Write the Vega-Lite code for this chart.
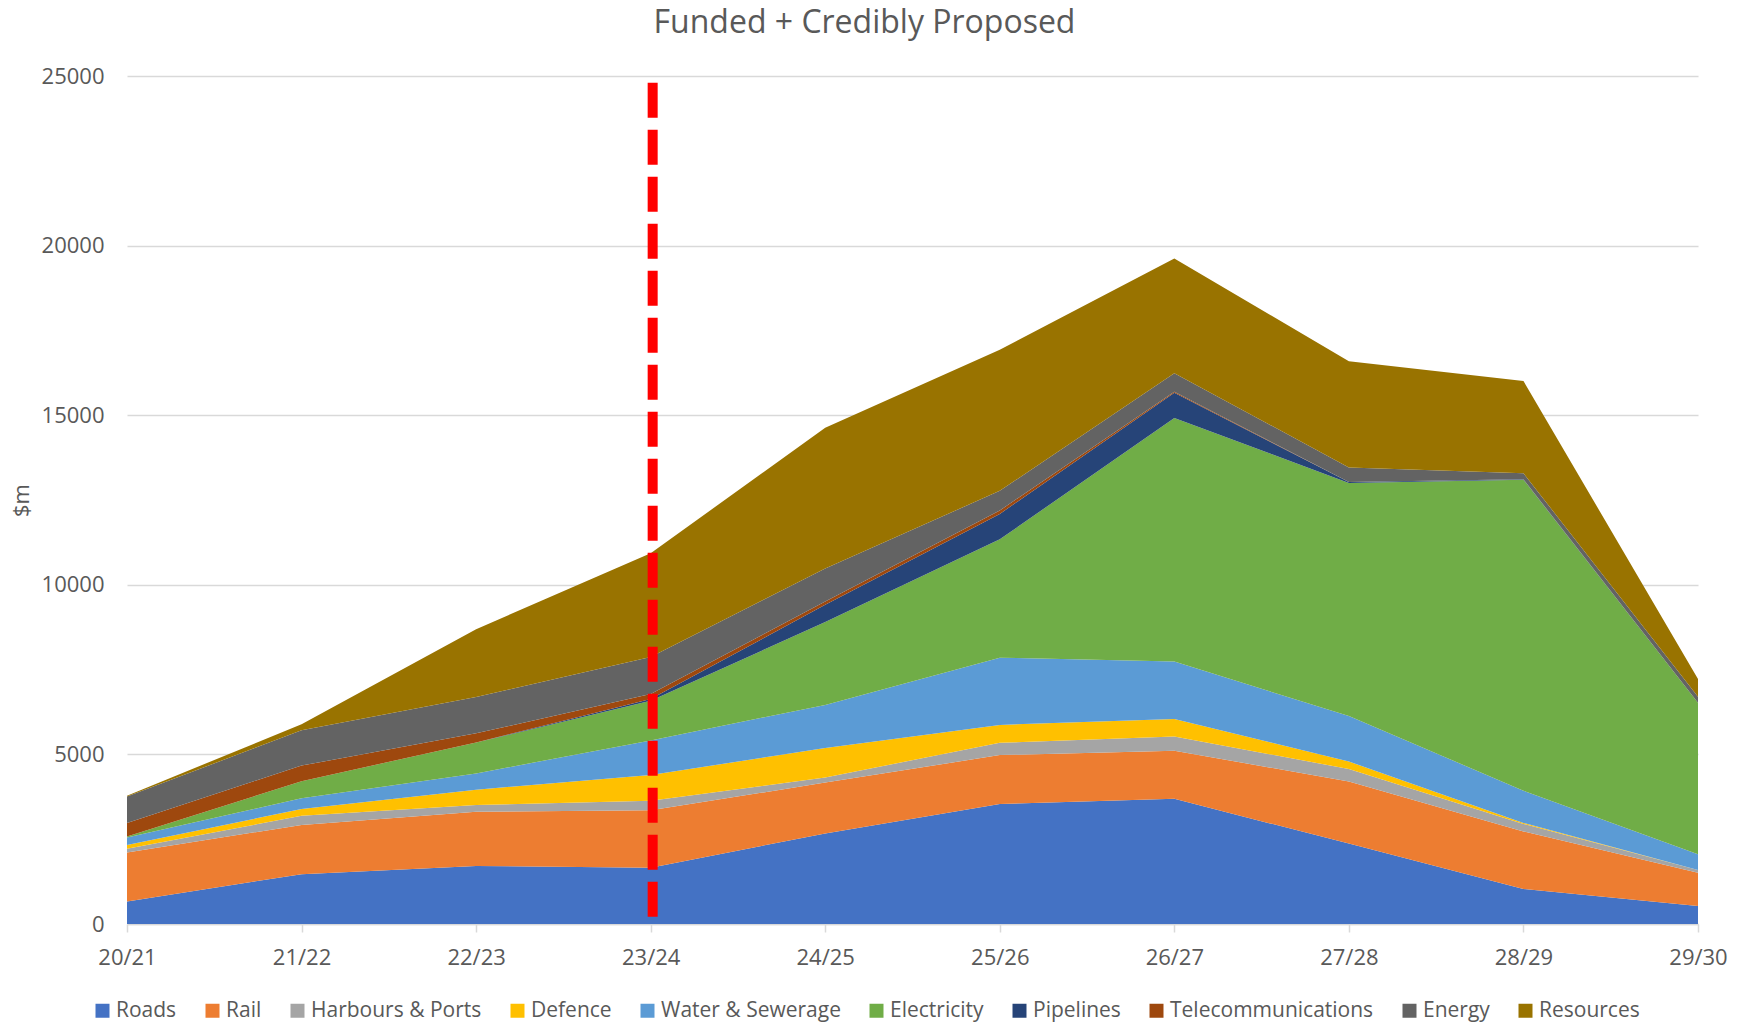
{
  "$schema": "https://vega.github.io/schema/vega-lite/v6.json",
  "width": 1571,
  "height": 848,
  "autosize": {"type": "none"},
  "padding": {"left": 127, "top": 76, "right": 48, "bottom": 99},
  "background": "white",
  "title": {"text": "Funded + Credibly Proposed", "font": "Open Sans", "fontSize": 32, "fontWeight": "normal", "color": "#595959", "offset": 25, "anchor": "middle", "dx": -48},
  "config": {"view": {"stroke": null}, "font": "Open Sans"},
  "layer": [
    {
      "data": {"values": [
        {"year":"20/21","series":"Roads","i":1,"value":660},
        {"year":"20/21","series":"Rail","i":2,"value":1450},
        {"year":"20/21","series":"Harbours & Ports","i":3,"value":110},
        {"year":"20/21","series":"Defence","i":4,"value":110},
        {"year":"20/21","series":"Water & Sewerage","i":5,"value":220},
        {"year":"20/21","series":"Electricity","i":6,"value":30},
        {"year":"20/21","series":"Pipelines","i":7,"value":0},
        {"year":"20/21","series":"Telecommunications","i":8,"value":400},
        {"year":"20/21","series":"Energy","i":9,"value":780},
        {"year":"20/21","series":"Resources","i":10,"value":20},
        {"year":"21/22","series":"Roads","i":1,"value":1470},
        {"year":"21/22","series":"Rail","i":2,"value":1450},
        {"year":"21/22","series":"Harbours & Ports","i":3,"value":270},
        {"year":"21/22","series":"Defence","i":4,"value":200},
        {"year":"21/22","series":"Water & Sewerage","i":5,"value":320},
        {"year":"21/22","series":"Electricity","i":6,"value":500},
        {"year":"21/22","series":"Pipelines","i":7,"value":0},
        {"year":"21/22","series":"Telecommunications","i":8,"value":460},
        {"year":"21/22","series":"Energy","i":9,"value":1040},
        {"year":"21/22","series":"Resources","i":10,"value":180},
        {"year":"22/23","series":"Roads","i":1,"value":1710},
        {"year":"22/23","series":"Rail","i":2,"value":1600},
        {"year":"22/23","series":"Harbours & Ports","i":3,"value":200},
        {"year":"22/23","series":"Defence","i":4,"value":450},
        {"year":"22/23","series":"Water & Sewerage","i":5,"value":480},
        {"year":"22/23","series":"Electricity","i":6,"value":910},
        {"year":"22/23","series":"Pipelines","i":7,"value":0},
        {"year":"22/23","series":"Telecommunications","i":8,"value":270},
        {"year":"22/23","series":"Energy","i":9,"value":1070},
        {"year":"22/23","series":"Resources","i":10,"value":2000},
        {"year":"23/24","series":"Roads","i":1,"value":1660},
        {"year":"23/24","series":"Rail","i":2,"value":1690},
        {"year":"23/24","series":"Harbours & Ports","i":3,"value":280},
        {"year":"23/24","series":"Defence","i":4,"value":760},
        {"year":"23/24","series":"Water & Sewerage","i":5,"value":1020},
        {"year":"23/24","series":"Electricity","i":6,"value":1170},
        {"year":"23/24","series":"Pipelines","i":7,"value":50},
        {"year":"23/24","series":"Telecommunications","i":8,"value":150},
        {"year":"23/24","series":"Energy","i":9,"value":1090},
        {"year":"23/24","series":"Resources","i":10,"value":3060},
        {"year":"24/25","series":"Roads","i":1,"value":2670},
        {"year":"24/25","series":"Rail","i":2,"value":1500},
        {"year":"24/25","series":"Harbours & Ports","i":3,"value":150},
        {"year":"24/25","series":"Defence","i":4,"value":870},
        {"year":"24/25","series":"Water & Sewerage","i":5,"value":1270},
        {"year":"24/25","series":"Electricity","i":6,"value":2440},
        {"year":"24/25","series":"Pipelines","i":7,"value":510},
        {"year":"24/25","series":"Telecommunications","i":8,"value":100},
        {"year":"24/25","series":"Energy","i":9,"value":970},
        {"year":"24/25","series":"Resources","i":10,"value":4150},
        {"year":"25/26","series":"Roads","i":1,"value":3540},
        {"year":"25/26","series":"Rail","i":2,"value":1440},
        {"year":"25/26","series":"Harbours & Ports","i":3,"value":360},
        {"year":"25/26","series":"Defence","i":4,"value":530},
        {"year":"25/26","series":"Water & Sewerage","i":5,"value":1980},
        {"year":"25/26","series":"Electricity","i":6,"value":3490},
        {"year":"25/26","series":"Pipelines","i":7,"value":750},
        {"year":"25/26","series":"Telecommunications","i":8,"value":100},
        {"year":"25/26","series":"Energy","i":9,"value":580},
        {"year":"25/26","series":"Resources","i":10,"value":4160},
        {"year":"26/27","series":"Roads","i":1,"value":3690},
        {"year":"26/27","series":"Rail","i":2,"value":1420},
        {"year":"26/27","series":"Harbours & Ports","i":3,"value":420},
        {"year":"26/27","series":"Defence","i":4,"value":510},
        {"year":"26/27","series":"Water & Sewerage","i":5,"value":1700},
        {"year":"26/27","series":"Electricity","i":6,"value":7180},
        {"year":"26/27","series":"Pipelines","i":7,"value":740},
        {"year":"26/27","series":"Telecommunications","i":8,"value":30},
        {"year":"26/27","series":"Energy","i":9,"value":550},
        {"year":"26/27","series":"Resources","i":10,"value":3380},
        {"year":"27/28","series":"Roads","i":1,"value":2370},
        {"year":"27/28","series":"Rail","i":2,"value":1830},
        {"year":"27/28","series":"Harbours & Ports","i":3,"value":370},
        {"year":"27/28","series":"Defence","i":4,"value":220},
        {"year":"27/28","series":"Water & Sewerage","i":5,"value":1340},
        {"year":"27/28","series":"Electricity","i":6,"value":6870},
        {"year":"27/28","series":"Pipelines","i":7,"value":30},
        {"year":"27/28","series":"Telecommunications","i":8,"value":0},
        {"year":"27/28","series":"Energy","i":9,"value":430},
        {"year":"27/28","series":"Resources","i":10,"value":3130},
        {"year":"28/29","series":"Roads","i":1,"value":1030},
        {"year":"28/29","series":"Rail","i":2,"value":1700},
        {"year":"28/29","series":"Harbours & Ports","i":3,"value":220},
        {"year":"28/29","series":"Defence","i":4,"value":30},
        {"year":"28/29","series":"Water & Sewerage","i":5,"value":950},
        {"year":"28/29","series":"Electricity","i":6,"value":9170},
        {"year":"28/29","series":"Pipelines","i":7,"value":10},
        {"year":"28/29","series":"Telecommunications","i":8,"value":0},
        {"year":"28/29","series":"Energy","i":9,"value":180},
        {"year":"28/29","series":"Resources","i":10,"value":2720},
        {"year":"29/30","series":"Roads","i":1,"value":530},
        {"year":"29/30","series":"Rail","i":2,"value":980},
        {"year":"29/30","series":"Harbours & Ports","i":3,"value":80},
        {"year":"29/30","series":"Defence","i":4,"value":0},
        {"year":"29/30","series":"Water & Sewerage","i":5,"value":470},
        {"year":"29/30","series":"Electricity","i":6,"value":4460},
        {"year":"29/30","series":"Pipelines","i":7,"value":0},
        {"year":"29/30","series":"Telecommunications","i":8,"value":0},
        {"year":"29/30","series":"Energy","i":9,"value":180},
        {"year":"29/30","series":"Resources","i":10,"value":520}
      ]},
      "mark": {"type": "area", "interpolate": "linear"},
      "encoding": {
        "x": {
          "field": "year", "type": "ordinal",
          "scale": {"type": "point", "padding": 0},
          "axis": {"title": null, "labelAngle": 0, "labelFontSize": 22, "labelColor": "#595959", "labelFont": "Open Sans", "domainColor": "#D9D9D9", "domainWidth": 1.5, "tickColor": "#D9D9D9", "tickWidth": 1.5, "tickSize": 8, "labelPadding": 15, "grid": false}
        },
        "y": {
          "field": "value", "type": "quantitative", "stack": "zero",
          "scale": {"domain": [0, 25000], "nice": false},
          "axis": {"title": "$m", "titleFont": "Open Sans", "titleFontSize": 22, "titleFontWeight": "normal", "titleColor": "#595959", "titleX": -106, "titleY": 424, "titleAngle": -90, "titleAlign": "center", "titleBaseline": "middle", "values": [0, 5000, 10000, 15000, 20000, 25000], "format": "d", "labelFontSize": 22, "labelColor": "#595959", "labelFont": "Open Sans", "labelPadding": 23, "ticks": false, "domain": false, "grid": true, "gridColor": "#D9D9D9", "gridWidth": 1.5}
        },
        "color": {
          "field": "series", "type": "nominal",
          "scale": {
            "domain": ["Roads", "Rail", "Harbours & Ports", "Defence", "Water & Sewerage", "Electricity", "Pipelines", "Telecommunications", "Energy", "Resources"],
            "range": ["#4472C4", "#ED7D31", "#A5A5A5", "#FFC000", "#5B9BD5", "#70AD47", "#264478", "#9E480E", "#636363", "#997300"]
          },
          "legend": {"title": null, "orient": "none", "legendX": -35, "legendY": 924, "direction": "horizontal", "columns": 10, "symbolType": "square", "symbolSize": 196, "symbolStrokeWidth": 0, "symbolOpacity": 1, "labelFontSize": 21, "labelFont": "Open Sans", "labelColor": "#595959", "labelLimit": 0, "columnPadding": 25, "labelOffset": 3}
        },
        "order": {"field": "i", "type": "quantitative"}
      }
    },
    {
      "data": {"values": [{"year": "23/24", "top": 24800, "base": 0}]},
      "mark": {"type": "rule", "color": "#FF0000", "strokeWidth": 10, "strokeDash": [35, 12], "strokeCap": "butt", "xOffset": 2},
      "encoding": {
        "x": {"field": "year", "type": "ordinal"},
        "y": {"field": "top", "type": "quantitative"},
        "y2": {"field": "base"}
      }
    }
  ]
}
